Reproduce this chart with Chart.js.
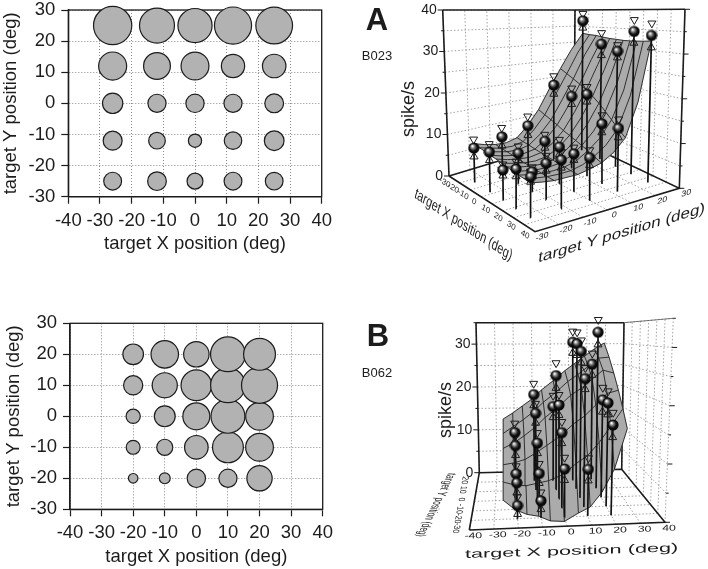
<!DOCTYPE html>
<html>
<head>
<meta charset="utf-8">
<script src="https://cdn.jsdelivr.net/npm/chart.js@4"></script>
<style>
  html, body { margin: 0; background: #fff; }
  #page { position: relative; width: 708px; height: 569px; overflow: hidden; }
  canvas { position: absolute; }
</style>
</head>
<body>
<div id="page">
  <canvas id="mapA" width="345" height="265" style="left:0;top:-10px"></canvas>
  <canvas id="mapB" width="345" height="268" style="left:0;top:300px"></canvas>
  <canvas id="viewA" width="368" height="295" style="left:340px;top:0"></canvas>
  <canvas id="viewB" width="368" height="269" style="left:340px;top:300px"></canvas>
</div>
<script>
// Target positions (deg)
const targetXA = [-26, -12, 0, 12, 25];
const targetYA = [-25, -12, 0, 12, 25];
const targetXB = [-20, -10, 0, 10, 20];
const targetYB = [-20, -10, 0, 10, 20];

// Firing rate (spikes/s), one row per target Y
const ratesA = [
  [8.0, 8.8, 6.4, 8.0, 7.9],
  [9.1, 7.0, 4.4, 7.7, 9.8],
  [10.4, 8.3, 8.4, 8.3, 8.9],
  [19.8, 18.1, 19.6, 13.7, 13.9],
  [36.9, 30.8, 29.4, 34.7, 34.0]
];
const ratesB = [
  [2.3, 3.0, 8.5, 8.3, 16.1],
  [4.9, 6.5, 14.0, 24.0, 19.4],
  [5.1, 11.0, 18.4, 28.9, 19.3],
  [9.3, 15.9, 23.7, 30.3, 32.7],
  [10.7, 19.0, 16.3, 30.5, 25.6]
];

// Error size (spikes/s)
const errorsA = [
  [2.0, 1.8, 1.2, 1.5, 1.0],
  [2.2, 1.6, 1.0, 1.6, 1.6],
  [2.4, 1.6, 1.7, 1.4, 1.6],
  [2.4, 2.0, 1.8, 2.0, 2.0],
  [2.0, 3.0, 1.6, 2.8, 2.8]
];
const errorsB = [
  [1.5, 1.5, 2.0, 2.0, 2.2],
  [1.8, 1.8, 2.0, 2.0, 2.2],
  [1.5, 2.0, 2.0, 2.2, 2.4],
  [2.0, 2.0, 2.6, 2.4, 2.6],
  [2.0, 2.4, 2.4, 2.4, 2.4]
];

// Fitted surfaces, one row per listed X position
const surfaceXA = [-26, -21, -16, -11, -6, -1, 4, 9, 14, 19, 25];
const surfaceYA = [-25, -20, -15, -10, -5, 0, 5, 10, 15, 20, 25];
const surfaceA = [
  [9, 8.2, 7.6, 7.4, 8, 10.5, 14, 19, 24, 29, 33.3],
  [8.7, 8, 7.4, 7.2, 7.7, 10, 13.2, 18, 23, 28.5, 33.1],
  [8.5, 7.8, 7.2, 7, 7.5, 9.5, 12.5, 17, 22, 28, 33],
  [8.2, 7.5, 7, 6.8, 7.2, 9, 11.8, 16, 21, 27, 32.7],
  [8, 7.3, 6.8, 6.6, 7, 8.5, 11, 15, 20, 26, 32.5],
  [7.7, 7.1, 6.6, 6.4, 6.8, 8.1, 10.4, 14, 18.8, 25, 32.4],
  [7.5, 6.9, 6.5, 6.3, 6.6, 7.8, 9.8, 13, 17.5, 24, 32.3],
  [7.2, 6.7, 6.3, 6.2, 6.4, 7.4, 9.2, 11.9, 16, 22.5, 32.3],
  [7, 6.5, 6.2, 6.1, 6.3, 7, 8.6, 10.8, 14.5, 21, 32.4],
  [6.9, 6.4, 6.1, 6, 6.1, 6.7, 7.9, 9.8, 13, 20, 32.5],
  [6.7, 6.3, 6, 6, 6, 6.5, 7.2, 8.8, 11.5, 19, 32.7]
];
const surfaceXB = [-26, -21, -16, -11, -6, 0, 6, 11, 16, 21, 26];
const surfaceYB = [-20, -12, -4, 4, 12, 20];
const surfaceB = [
  [3.3, 5.4, 7.5, 9.6, 11.6, 13.7],
  [1.6, 4.8, 7.8, 10.6, 13, 15],
  [0.7, 4.6, 8.4, 12, 14.4, 16.5],
  [0.3, 5, 9.6, 13.6, 16, 18],
  [-0.6, 5.4, 11, 15.6, 18, 20],
  [-0.8, 6.4, 12.7, 17.6, 20, 22],
  [0.6, 8.4, 15, 20, 22.3, 24.2],
  [1.6, 9.8, 16.5, 21.4, 23.8, 25.8],
  [4.2, 12.2, 18.6, 23.2, 25.5, 27.4],
  [8.2, 15.2, 20.8, 25, 27.2, 29],
  [15.4, 18.4, 21.4, 24.4, 27.4, 30.3]
];

// Axis ticks
const mapTicksX = [-40, -30, -20, -10, 0, 10, 20, 30, 40];
const mapTicksY = [-30, -20, -10, 0, 10, 20, 30];
const rateTicksA = [0, 10, 20, 30, 40];
const rateTicksB = [0, 10, 20, 30];

const INK = '#1c1c1c';
const SURFACE_GREY = '#ababab';
const BUBBLE_SCALE = 3.15;
const FONT = '"Liberation Sans", Arial, sans-serif';

function bubbleData(xs, ys, rates) {
  const out = [];
  ys.forEach((y, row) => xs.forEach((x, col) => {
    out.push({ x: x, y: y, r: BUBBLE_SCALE * Math.sqrt(rates[row][col]) });
  }));
  return out;
}

// Left hand maps: bubble area follows the rate
function drawMap(id, xs, ys, rates, box) {
  const frame = {
    id: 'frame',
    beforeDatasetsDraw(chart) {
      const a = chart.chartArea, c = chart.ctx;
      c.save();
      c.strokeStyle = INK;
      c.lineWidth = 1.3;
      c.strokeRect(a.left, a.top, a.right - a.left, a.bottom - a.top);
      c.restore();
    }
  };
  new Chart(document.getElementById(id), {
    type: 'bubble',
    data: { datasets: [{
      data: bubbleData(xs, ys, rates),
      backgroundColor: '#b2b2b2',
      borderColor: INK,
      borderWidth: 1.2,
      clip: false
    }] },
    plugins: [frame],
    options: {
      responsive: false,
      animation: false,
      events: [],
      layout: { autoPadding: false, padding: { left: box.left, top: box.top, right: box.right, bottom: 0 } },
      plugins: { legend: { display: false }, tooltip: { enabled: false } },
      scales: {
        x: axisOptions(-40, 40, mapTicksX, 'target X position (deg)', s => { s.height = box.xHeight; }),
        y: axisOptions(-30, 30, mapTicksY, 'target Y position (deg)', s => { s.width = box.yWidth; })
      }
    }
  });
}

function axisOptions(min, max, ticks, title, fit) {
  return {
    min: min,
    max: max,
    afterBuildTicks: s => { s.ticks = ticks.map(v => ({ value: v })); },
    afterFit: fit,
    title: { display: true, text: title, color: INK, padding: 0, font: { family: FONT, size: 18.5 } },
    ticks: { color: INK, padding: 6, autoSkip: false, maxRotation: 0, font: { family: FONT, size: 18.5 } },
    grid: { color: '#8a8a8a', lineWidth: 1, tickColor: INK, tickLength: 7, tickBorderDash: [], tickWidth: 1.2 },
    border: { color: INK, width: 1.3, dash: [1, 2] }
  };
}

drawMap('mapA', targetXA, targetYA, ratesA, { left: 0, top: 20, right: 23.3, xHeight: 58.3, yWidth: 68.3 });
drawMap('mapB', targetXB, targetYB, ratesB, { left: 3, top: 23.3, right: 22.3, xHeight: 58.7, yWidth: 67 });

// Right hand views. Box corners on the page, in the order
// (X-,Y-) (X+,Y-) (X+,Y+) (X-,Y+), floor then ceiling.
const floorA = [[449, 176], [535, 231.7], [679.3, 188.3], [574, 138.3]];
const ceilingA = [[442.7, 10], [535.7, 10], [685, 9.3], [575, 10]];
const floorB = [[469.3, 530], [665, 522.3], [621.7, 469.3], [479.3, 472.7]];
const ceilingB = [[463.3, 318.3], [673.3, 318.3], [624, 322.7], [476, 322.7]];

function mix(a, b, t) { return [a[0] + (b[0] - a[0]) * t, a[1] + (b[1] - a[1]) * t]; }
function quad(q, u, v) { return mix(mix(q[0], q[3], v), mix(q[1], q[2], v), u); }
function project(view, X, Y, Z) {
  const u = (X + 40) / 80, v = (Y + 30) / 60, w = Z / view.zMax;
  const p = mix(quad(view.floor, u, v), quad(view.ceiling, u, v), w);
  return { x: p[0], y: p[1] };
}

function line(points, color, width, dash) {
  return {
    data: points, showLine: true, pointRadius: 0, borderColor: color, borderWidth: width,
    borderDash: dash || [], fill: false, tension: 0, clip: false
  };
}
function shape(points, color) {
  return {
    data: points, showLine: true, pointRadius: 0, borderColor: color, borderWidth: 0.5,
    backgroundColor: color, fill: 'shape', tension: 0, clip: false
  };
}
function marks(points, style, radius, rotation) {
  return {
    data: points, showLine: false, pointStyle: style, pointRadius: radius, pointRotation: rotation || 0,
    pointBackgroundColor: 'rgba(0,0,0,0)', pointBorderColor: INK, pointBorderWidth: 1, clip: false
  };
}

// Little shaded ball for the mean rate
function ballImage() {
  const c = document.createElement('canvas');
  c.width = c.height = 12;
  const g = c.getContext('2d');
  const grad = g.createRadialGradient(4.4, 4, 0.4, 6, 6, 6);
  grad.addColorStop(0, '#ffffff');
  grad.addColorStop(0.3, '#777777');
  grad.addColorStop(0.6, '#111111');
  grad.addColorStop(1, '#000000');
  g.fillStyle = grad;
  g.beginPath();
  g.arc(6, 6, 5.6, 0, Math.PI * 2);
  g.fill();
  return c;
}

const steps = (a, b, s) => { const o = []; for (let v = a; v <= b; v += s) o.push(v); return o; };

function gridDatasets(view) {
  const out = [];
  const grid = (a, b) => out.push(line([a, b], '#8c8c8c', 0.8, [1.5, 2]));
  steps(-40, 40, 10).forEach(x => grid(project(view, x, -30, 0), project(view, x, 30, 0)));
  steps(-30, 30, 10).forEach(y => grid(project(view, -40, y, 0), project(view, 40, y, 0)));
  view.walls.forEach(wall => {
    if (wall.axis === 'X') {
      steps(-30, 30, 10).forEach(y => grid(project(view, wall.at, y, 0), project(view, wall.at, y, view.zMax)));
      steps(5, view.zMax, 5).forEach(z => grid(project(view, wall.at, -30, z), project(view, wall.at, 30, z)));
    } else {
      steps(-40, 40, 10).forEach(x => grid(project(view, x, wall.at, 0), project(view, x, wall.at, view.zMax)));
      steps(5, view.zMax, 5).forEach(z => grid(project(view, -40, wall.at, z), project(view, 40, wall.at, z)));
    }
  });
  return out;
}

function boxDatasets(view) {
  const thick = pts => line(pts.map(p => project(view, p[0], p[1], p[2])), INK, 1.6);
  const top = view.zMax;
  const out = [thick([[-40, -30, 0], [40, -30, 0], [40, 30, 0], [-40, 30, 0], [-40, -30, 0]])];
  out.push(thick([[-40, 30, 0], [-40, 30, top]]));
  out.push(thick([[40, 30, 0], [40, 30, top]]));
  out.push(thick([[-40, 30, top], [40, 30, top]]));
  if (view.name === 'A') {
    out.push(thick([[-40, -30, 0], [-40, -30, top]]));
    out.push(thick([[-40, -30, top], [-40, 30, top]]));
  } else {
    out.push(line([project(view, 40, 30, top), project(view, 40, -30, top)], '#555', 0.8));
  }
  // rate ticks on the outer uprights
  view.tickEdges.forEach(e => steps(0, top, 5).forEach(z => {
    const p = project(view, e.x, e.y, z);
    out.push(line([p, { x: p.x + e.dir * (z % 10 ? 2.5 : 5), y: p.y }], INK, 1));
  }));
  return out;
}

function surfaceDatasets(view) {
  const sx = view.surfaceX, sy = view.surfaceY, sz = view.surfaceZ;
  const at = (i, j) => project(view, sx[i], sy[j], sz[i][j]);
  const rim = [];
  sy.forEach((y, j) => rim.push(at(0, j)));
  sx.forEach((x, i) => rim.push(at(i, sy.length - 1)));
  sy.slice().reverse().forEach((y, j) => rim.push(at(sx.length - 1, sy.length - 1 - j)));
  sx.slice().reverse().forEach((x, i) => rim.push(at(sx.length - 1 - i, 0)));
  const out = [shape(rim, SURFACE_GREY)];
  sx.forEach((x, i) => out.push(line(sy.map((y, j) => at(i, j)), '#222', 0.9)));
  sy.forEach((y, j) => {
    if (j % view.crossEvery === 0) out.push(line(sx.map((x, i) => at(i, j)), '#222', 0.9));
  });
  return out;
}

function pointDatasets(view) {
  const out = [], balls = [], upper = [], lower = [];
  view.ys.slice().reverse().forEach((y, r) => {
    const row = view.ys.length - 1 - r;
    view.xs.forEach((x, col) => {
      const z = view.rates[row][col], e = view.errors[row][col];
      out.push(line([project(view, x, y, 0), project(view, x, y, z)], '#111', 1.7));
      balls.push(project(view, x, y, z));
      upper.push(project(view, x, y, z + e));
      lower.push(project(view, x, y, z - e));
    });
  });
  out.push(marks(upper, 'triangle', 4.6, 180));
  out.push(marks(lower, 'triangle', 4.6, 0));
  out.push({ data: balls, showLine: false, pointStyle: ballImage(), pointRadius: 6, clip: false });
  return out;
}

// Text laid along a line, sheared into the floor of the box
function spanText(c, text, start, end, up, size) {
  c.save();
  c.font = size + 'px ' + FONT;
  const w = c.measureText(text).width;
  c.transform((end[0] - start[0]) / w, (end[1] - start[1]) / w, -up[0], -up[1], start[0], start[1]);
  c.textAlign = 'left';
  c.textBaseline = 'middle';
  c.fillStyle = INK;
  c.fillText(text, 0, 0);
  c.restore();
}
function tickText(c, text, at, along, up, size) {
  c.save();
  c.font = size + 'px ' + FONT;
  c.transform(along[0], along[1], -up[0], -up[1], at[0], at[1]);
  c.textAlign = 'center';
  c.textBaseline = 'middle';
  c.fillStyle = INK;
  c.fillText(text, 0, 0);
  c.restore();
}

function drawView(id, view, yMin, yMax) {
  const labels = {
    id: 'labels',
    afterDatasetsDraw(chart) {
      const c = chart.ctx, sx = chart.scales.x, sy = chart.scales.y;
      c.save();
      c.translate(sx.getPixelForValue(0), sy.getPixelForValue(0));
      view.text(c);
      c.restore();
    }
  };
  const layers = [].concat(gridDatasets(view), boxDatasets(view), surfaceDatasets(view), pointDatasets(view));
  new Chart(document.getElementById(id), {
    type: 'scatter',
    data: { datasets: layers.reverse() }, // first dataset is painted last
    plugins: [labels],
    options: {
      responsive: false,
      animation: false,
      events: [],
      layout: { autoPadding: false },
      plugins: { legend: { display: false }, tooltip: { enabled: false } },
      scales: {
        x: { display: false, min: 340, max: 708 },
        y: { display: false, min: yMin, max: yMax, reverse: true }
      }
    }
  });
}

const viewA = {
  name: 'A', zMax: 40, floor: floorA, ceiling: ceilingA, crossEvery: 2,
  walls: [{ axis: 'X', at: -40 }, { axis: 'Y', at: 30 }],
  tickEdges: [{ x: -40, y: -30, dir: -1 }, { x: 40, y: 30, dir: 1 }],
  xs: targetXA, ys: targetYA, rates: ratesA, errors: errorsA,
  surfaceX: surfaceXA, surfaceY: surfaceYA, surfaceZ: surfaceA,
  text(c) {
    const alongX = [0.8, 0.52], alongY = [0.95, -0.29];
    rateTicksA.forEach(z => {
      const p = project(viewA, -40, -30, z);
      c.font = '14px ' + FONT; c.fillStyle = INK; c.textAlign = 'right'; c.textBaseline = 'middle';
      c.fillText(String(z), p.x - 6, p.y);
    });
    [-30, -20, -10, 0, 10, 20, 30, 40].forEach(x => {
      // the X ticks bunch up towards the far corner of the box
      const t = Math.pow((x + 40) / 80, 1.3);
      const p = quad(floorA, t, 0);
      tickText(c, String(x), [p[0] - 10, p[1] + 3], alongX, [0.3, -0.85], 9);
    });
    [-30, -20, -10, 0, 10, 20, 30].forEach(y => {
      const p = project(viewA, 40, y, 0);
      tickText(c, String(y), [p.x + 7, p.y + 5], alongY, [0.1, -0.85], 9.5);
    });
    spanText(c, 'target X position (deg)', [415, 193.3], [511.7, 256.7], [0.3, -0.95], 15);
    spanText(c, 'target Y position (deg)', [538.3, 258.3], [705, 208.3], [0.12, -0.95], 16);
    c.save();
    c.translate(409, 109); c.rotate(-Math.PI / 2);
    c.font = '18px ' + FONT; c.fillStyle = INK; c.textAlign = 'center'; c.textBaseline = 'middle';
    c.fillText('spike/s', 0, 0);
    c.restore();
    c.fillStyle = INK; c.textAlign = 'center'; c.textBaseline = 'middle';
    c.font = 'bold 31px ' + FONT; c.fillText('A', 377, 21);
    c.font = '13px ' + FONT; c.fillText('B023', 377, 56);
  }
};

const viewB = {
  name: 'B', zMax: 35, floor: floorB, ceiling: ceilingB, crossEvery: 1,
  walls: [{ axis: 'Y', at: 30 }, { axis: 'X', at: 40 }],
  tickEdges: [{ x: -40, y: 30, dir: -1 }, { x: 40, y: -30, dir: 1 }],
  xs: targetXB, ys: targetYB, rates: ratesB, errors: errorsB,
  surfaceX: surfaceXB, surfaceY: surfaceYB, surfaceZ: surfaceB,
  text(c) {
    rateTicksB.forEach(z => {
      const p = project(viewB, -40, 30, z);
      c.font = '14px ' + FONT; c.fillStyle = INK; c.textAlign = 'right'; c.textBaseline = 'middle';
      c.fillText(String(z), p.x - 6, p.y);
    });
    [-40, -30, -20, -10, 0, 10, 20, 30, 40].forEach(x => {
      const p = project(viewB, x, -30, 0);
      tickText(c, String(x), [p.x + 4, p.y + 6], [1.3, -0.03], [0, -0.9], 9.5);
    });
    [-30, -20, -10, 0, 10, 20].forEach(y => {
      const p = project(viewB, -40, y, 0);
      tickText(c, String(y), [p.x - 13, p.y - 2], [-0.15, 0.7], [0.9, 0], 10);
    });
    spanText(c, 'target X position (deg)', [465, 554.7], [678.3, 548], [0, -0.85], 14);
    spanText(c, 'target Y position (deg)', [451.7, 473.3], [420, 536.7], [0.9, 0.05], 14);
    c.save();
    c.translate(445.7, 410); c.rotate(-Math.PI / 2);
    c.font = '18px ' + FONT; c.fillStyle = INK; c.textAlign = 'center'; c.textBaseline = 'middle';
    c.fillText('spike/s', 0, 0);
    c.restore();
    c.fillStyle = INK; c.textAlign = 'center'; c.textBaseline = 'middle';
    c.font = 'bold 31px ' + FONT; c.fillText('B', 378, 337);
    c.font = '13px ' + FONT; c.fillText('B062', 377, 373);
  }
};

drawView('viewA', viewA, 0, 295);
drawView('viewB', viewB, 300, 569);
</script>
</body>
</html>
